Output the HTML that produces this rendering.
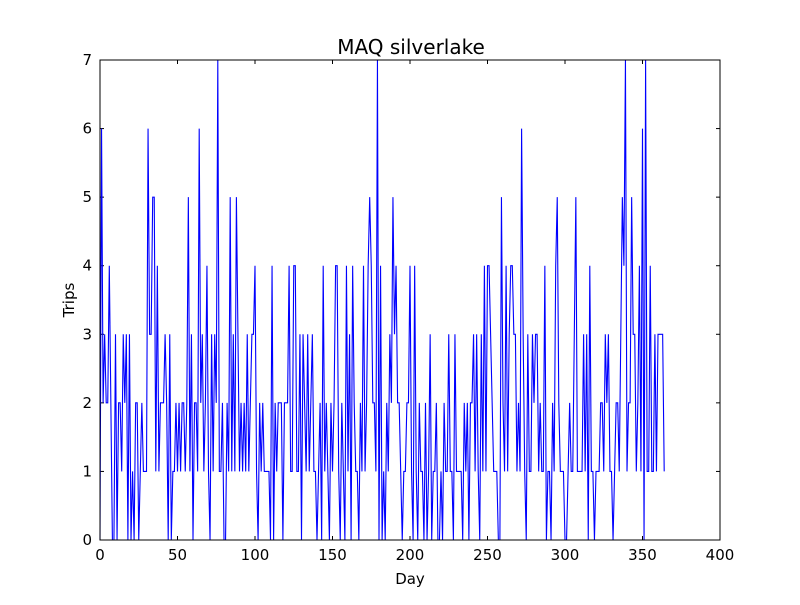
<!DOCTYPE html>
<html><head><meta charset="utf-8"><style>
body{margin:0;background:#fff;}
svg text{font-family:"DejaVu Sans","Liberation Sans",sans-serif;fill:#000;}
</style></head><body>
<svg id="chart" width="800" height="600" xmlns="http://www.w3.org/2000/svg">
<rect x="0" y="0" width="800" height="600" fill="#fff"/>
<text x="411" y="54" font-size="20" text-anchor="middle">MAQ silverlake</text>
<text x="410" y="584" font-size="15" text-anchor="middle">Day</text>
<text x="74" y="300" font-size="15" text-anchor="middle" transform="rotate(-90 74 300)">Trips</text>
<g id="ticks"></g>
<path id="line" fill="none" stroke="#0000ff" stroke-width="1.1"/>
<rect x="100" y="60" width="620" height="480" fill="none" stroke="#000" stroke-width="1"/>
</svg>
<script>
const xTicks = [0,50,100,150,200,250,300,350,400];
const yTicks = [0,1,2,3,4,5,6,7];
const trips = [
0,6,2,3,2,2,4,2,0,0,
3,0,2,2,1,3,2,3,0,3,
0,1,0,2,2,0,1,2,1,1,
1,6,3,3,5,5,1,4,1,2,
2,2,3,2,0,3,0,1,1,2,
1,2,1,2,2,1,2,5,1,3,
0,2,2,1,6,2,3,1,2,4,
1,0,3,1,3,2,7,1,1,2,
0,0,2,1,5,1,3,1,5,3,
1,2,1,2,1,3,1,2,3,3,
4,1,0,2,1,2,1,1,1,1,
0,4,0,2,1,2,2,2,0,2,
2,2,4,1,1,4,4,1,1,3,
0,3,2,1,3,1,2,3,1,1,
0,1,2,0,4,1,2,1,0,2,
1,2,4,4,1,0,2,1,0,4,
1,3,0,4,2,1,1,0,2,1,
4,1,2,4,5,4,2,2,1,7,
0,4,0,1,0,2,1,3,2,5,
3,4,2,2,1,0,1,1,2,2,
4,1,0,4,1,0,2,1,1,0,
2,0,1,3,0,1,1,2,0,0,
1,0,2,1,1,3,1,1,0,3,
1,1,1,1,0,2,1,2,0,2,
2,3,1,3,1,0,3,1,4,1,
4,4,3,2,1,1,1,0,0,5,
2,1,4,1,3,4,4,3,3,1,
2,1,6,3,1,0,3,1,1,3,
2,3,3,1,2,1,1,4,0,1,
1,0,2,1,4,5,2,1,1,1,
0,0,1,2,1,1,3,5,1,1,
1,1,3,1,3,0,4,1,1,0,
1,1,1,2,2,1,3,2,3,1,
1,0,1,2,2,1,3,5,4,7,
1,2,2,5,3,3,1,2,4,1,
6,0,7,1,1,4,1,1,3,1,
3,3,3,3,1];
const X0=100,X1=720,Y0=540,Y1=60;
function xs(v){return X0+(v-0)/(400-0)*(X1-X0);}
function ys(v){return Y0-(v-0)/(7-0)*(Y0-Y1);}
const NS="http://www.w3.org/2000/svg";
const g=document.getElementById('ticks');
function ln(x1,y1,x2,y2){const l=document.createElementNS(NS,'line');l.setAttribute('x1',x1);l.setAttribute('y1',y1);l.setAttribute('x2',x2);l.setAttribute('y2',y2);l.setAttribute('stroke','#000');g.appendChild(l);return l;}
xTicks.forEach(t=>{
  const x=xs(t);
  const a=ln(x,Y0,x,Y0-4);
  
  
  const b=ln(x,Y1,x,Y1+4);
  
  
  const tx=document.createElementNS(NS,'text');
  tx.setAttribute('x',x);tx.setAttribute('y',Y0+20);tx.setAttribute('font-size','15');tx.setAttribute('text-anchor','middle');
  tx.textContent=t;
  
  
  g.appendChild(tx);
});
yTicks.forEach(t=>{
  const y=ys(t);
  const a=ln(X0,y,X0+4,y);
  
  
  const b=ln(X1,y,X1-4,y);
  
  
  const tx=document.createElementNS(NS,'text');
  tx.setAttribute('x',X0-8);tx.setAttribute('y',y+5);tx.setAttribute('font-size','15');tx.setAttribute('text-anchor','end');
  tx.textContent=t;
  
  
  g.appendChild(tx);
});
document.getElementById('line').setAttribute('d',trips.map((v,i)=>(i?'L':'M')+xs(i).toFixed(2)+' '+ys(v).toFixed(2)).join(' '));
</script>
</body></html>
